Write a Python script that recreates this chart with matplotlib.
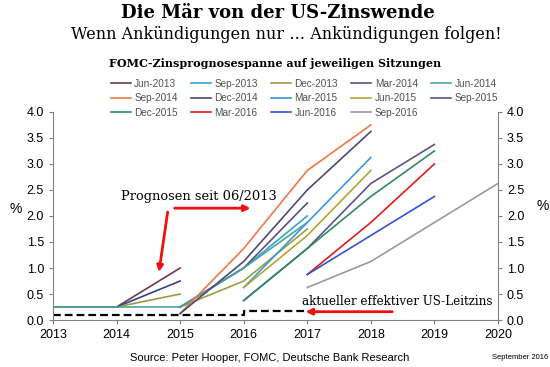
import matplotlib
matplotlib.use("Agg")
import matplotlib.pyplot as plt

# fed funds projections (year-end medians) per FOMC meeting
meetings = ["Jun-2013", "Sep-2013", "Dec-2013", "Mar-2014", "Jun-2014",
            "Sep-2014", "Dec-2014", "Mar-2015", "Jun-2015", "Sep-2015",
            "Dec-2015", "Mar-2016", "Jun-2016", "Sep-2016"]
years = {
    "Jun-2013": [2013, 2014, 2015],
    "Sep-2013": [2015, 2016, 2017],
    "Dec-2013": [2015, 2016, 2017],
    "Mar-2014": [2015, 2016, 2017],
    "Jun-2014": [2013, 2014, 2015, 2016, 2017],
    "Sep-2014": [2015, 2016, 2017, 2018],
    "Dec-2014": [2015, 2016, 2017, 2018],
    "Mar-2015": [2016, 2017, 2018],
    "Jun-2015": [2016, 2017, 2018],
    "Sep-2015": [2016, 2017, 2018, 2019],
    "Dec-2015": [2016, 2017, 2018, 2019],
    "Mar-2016": [2017, 2018, 2019],
    "Jun-2016": [2017, 2018, 2019],
    "Sep-2016": [2017, 2018, 2019, 2020],
}
rates = {
    "Jun-2013": [0.25, 0.25, 1.0],
    "Sep-2013": [0.25, 1.0, 2.0],
    "Dec-2013": [0.25, 0.75, 1.75],
    "Mar-2014": [0.25, 1.0, 2.25],
    "Jun-2014": [0.25, 0.25, 0.25, 1.0, 1.875],
    "Sep-2014": [0.125, 1.375, 2.875, 3.75],
    "Dec-2014": [0.125, 1.125, 2.5, 3.625],
    "Mar-2015": [0.625, 1.875, 3.125],
    "Jun-2015": [0.625, 1.625, 2.875],
    "Sep-2015": [0.375, 1.375, 2.625, 3.375],
    "Dec-2015": [0.375, 1.375, 2.375, 3.25],
    "Mar-2016": [0.875, 1.875, 3.0],
    "Jun-2016": [0.875, 1.625, 2.375],
    "Sep-2016": [0.625, 1.125, 1.875, 2.625],
}
colors = {
    "Jun-2013": "#6e3a4e", "Sep-2013": "#3aa0d0", "Dec-2013": "#a09a40",
    "Mar-2014": "#5a5080", "Jun-2014": "#4aa5a0", "Sep-2014": "#f07848",
    "Dec-2014": "#4c4a78", "Mar-2015": "#3a9ad8", "Jun-2015": "#b4a434",
    "Sep-2015": "#5c5485", "Dec-2015": "#2e8c62", "Mar-2016": "#e21c1c",
    "Jun-2016": "#3454d0", "Sep-2016": "#9a9a9a",
}

# two more early lines (2014 -> 2015) drawn without legend entry
early_years = [2014, 2015]
early_navy = [0.25, 0.75]
early_olive = [0.25, 0.5]

# actual effective fed funds rate
eff_years = [2013, 2016, 2016, 2017]
eff_rate = [0.1, 0.1, 0.18, 0.18]

serif = "DejaVu Serif"
sans = "Liberation Sans"

fig = plt.figure(figsize=(5.5, 3.67), dpi=100)
ax = fig.add_axes([0.0964, 0.128, 0.809, 0.567])

ax.plot(early_years, early_navy, color="#3a3f8f", lw=1.2)
ax.plot(early_years, early_olive, color="#9a9a40", lw=1.2)
handles = {}
for m in meetings:
    handles[m], = ax.plot(years[m], rates[m], color=colors[m], lw=1.2, label=m)
ax.plot(eff_years, eff_rate, color="black", lw=1.6, ls=(0, (3.5, 1.8)))

ax.set_xlim(2013, 2020)
ax.set_ylim(0, 4)
ax.set_xticks(range(2013, 2021))
ax.set_yticks([i * 0.5 for i in range(9)])
ax.set_yticklabels([f"{i * 0.5:.1f}" for i in range(9)])
ax.spines["top"].set_visible(False)
for s in ["left", "right", "bottom"]:
    ax.spines[s].set_color("#808080")
ax.tick_params(colors="#808080", labelcolor="black", labelsize=9,
               right=True, labelright=True, length=3)
for lab in ax.get_xticklabels() + ax.get_yticklabels():
    lab.set_fontfamily(sans)

fig.text(0.018, 0.43, "%", fontsize=10, family=sans, va="center")
fig.text(0.975, 0.44, "%", fontsize=10, family=sans, va="center")

# annotations
ax.text(2015.3, 2.37, "Prognosen seit 06/2013", family=serif, fontsize=9.4,
        ha="center", va="center")
arrow = dict(arrowstyle="-|>", color="#ee1111", lw=2, mutation_scale=9)
ax.annotate("", xy=(2014.66, 0.87), xytext=(2014.81, 2.13), arrowprops=arrow)
ax.annotate("", xy=(2016.15, 2.15), xytext=(2014.87, 2.15), arrowprops=arrow)
ax.text(2018.42, 0.35, "aktueller effektiver US-Leitzins", family=serif,
        fontsize=8.6, ha="center", va="center")
ax.annotate("", xy=(2016.93, 0.16), xytext=(2018.38, 0.16), arrowprops=arrow)

# titles
fig.text(0.505, 0.965, "Die Mär von der US-Zinswende", family=serif,
         fontsize=13, fontweight="bold", ha="center", va="center")
fig.text(0.52, 0.905, "Wenn Ankündigungen nur … Ankündigungen folgen!",
         family=serif, fontsize=11.5, ha="center", va="center")
fig.text(0.5, 0.828, "FOMC-Zinsprognosespanne auf jeweiligen Sitzungen",
         family=serif, fontsize=8, fontweight="bold", ha="center", va="center")

# legend filled row by row (matplotlib fills columns first)
ncol = 5
order = [meetings[r * ncol + c] for c in range(ncol) for r in range(3)
         if r * ncol + c < len(meetings)]
leg = fig.legend([handles[m] for m in order], order,
                 loc="upper left", bbox_to_anchor=(0.185, 0.81), ncol=ncol,
                 frameon=False, prop={"family": sans, "size": 7.2},
                 handlelength=2.0, handletextpad=0.35, columnspacing=1.3,
                 labelspacing=0.45)
for t in leg.get_texts():
    t.set_color("#505050")

fig.text(0.49, 0.025, "Source: Peter Hooper, FOMC, Deutsche Bank Research",
         family=sans, fontsize=8, ha="center", va="center")
fig.text(0.945, 0.027, "September 2016", family=sans, fontsize=5.5,
         ha="center", va="center")

fig.savefig("out.png", dpi=100)
